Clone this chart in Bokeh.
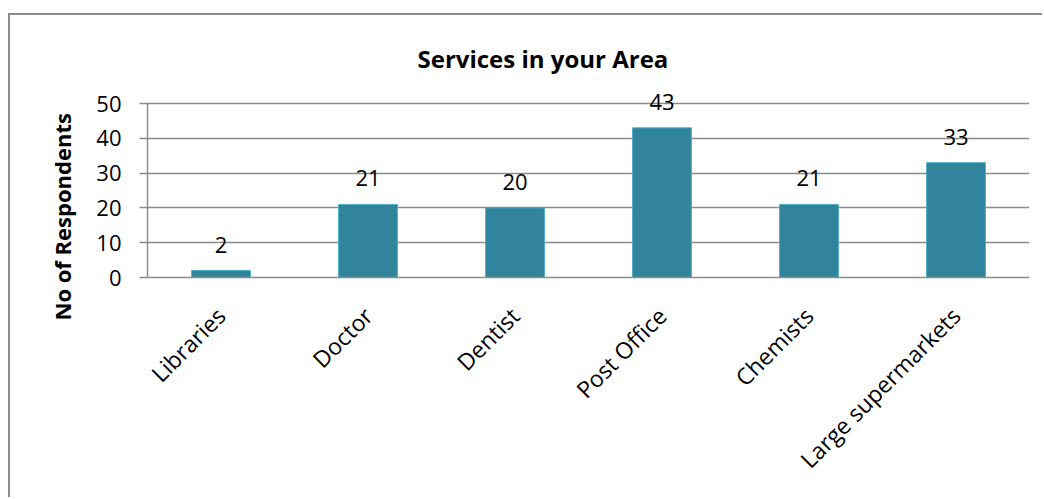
import math
from bokeh.plotting import figure
from bokeh.models import FactorRange, Range1d, FixedTicker, Title, ColumnDataSource, LabelSet
from bokeh.core.properties import value
from bokeh.embed import file_html
from bokeh.resources import INLINE

categories = ["Libraries", "Doctor", "Dentist", "Post Office", "Chemists", "Large supermarkets"]
values = [2, 21, 20, 43, 21, 33]
y_ticks = [0, 10, 20, 30, 40, 50]
title_text = "Services in your Area"
y_title = "No of Respondents"

FONT = "Open Sans"
GRID = "#8c8c8c"
FS = "22px"

src = ColumnDataSource(dict(cat=categories, val=values, lab=[str(v) for v in values]))

p = figure(width=1034, height=484, x_range=FactorRange(*categories, range_padding=0),
           y_range=Range1d(0, 56.61), output_backend="svg", toolbar_location=None,
           min_border_left=137, min_border_right=15, min_border_top=65, min_border_bottom=222)
p.styles = {"margin-left": "8px", "margin-top": "13px",
            "border-left": "2px solid #8c8c8c", "border-top": "2px solid #8c8c8c"}
p.outline_line_color = None
p.background_fill_color = "white"
p.border_fill_color = "white"

p.vbar(x="cat", top="val", width=0.4, source=src, fill_color="#31849B",
       line_color="#4BACC6", line_width=1)

labels = LabelSet(x="cat", y="val", text="lab", source=src, text_align="center",
                  text_baseline="middle", y_offset=26, text_font=value(FONT),
                  text_font_size=value(FS), text_color="black")
p.add_layout(labels)

p.xgrid.grid_line_color = None
p.ygrid.grid_line_color = GRID
p.ygrid.grid_line_width = 1.5
p.yaxis.ticker = FixedTicker(ticks=y_ticks)
p.yaxis.bounds = (0, 50)
p.yaxis.axis_line_color = GRID
p.yaxis.axis_line_width = 1.5
p.yaxis.major_tick_line_color = GRID
p.yaxis.major_tick_line_width = 1.5
p.yaxis.major_tick_out = 8
p.yaxis.major_tick_in = 0
p.yaxis.minor_tick_line_color = None
p.yaxis.major_label_text_font = FONT
p.yaxis.major_label_text_font_size = FS
p.yaxis.major_label_text_color = "black"
p.yaxis.major_label_standoff = 18

p.xaxis.axis_line_color = GRID
p.xaxis.axis_line_width = 1.5
p.xaxis.major_tick_line_color = None
p.xaxis.minor_tick_line_color = None
p.xaxis.major_label_orientation = math.pi / 4
p.xaxis.major_label_text_font = FONT
p.xaxis.major_label_text_font_size = "23px"
p.xaxis.major_label_text_color = "black"
p.xaxis.major_label_standoff = 28

p.title = Title(text=title_text, align="left", offset=270, standoff=12,
                text_font=FONT, text_font_size="24px", text_font_style="bold",
                text_color="black")
p.add_layout(Title(text=y_title, align="left", offset=-43, standoff=33,
                   text_font=FONT, text_font_size="22px", text_font_style="bold",
                   text_color="black"), "left")

open("out.html", "w").write(file_html(p, INLINE))
